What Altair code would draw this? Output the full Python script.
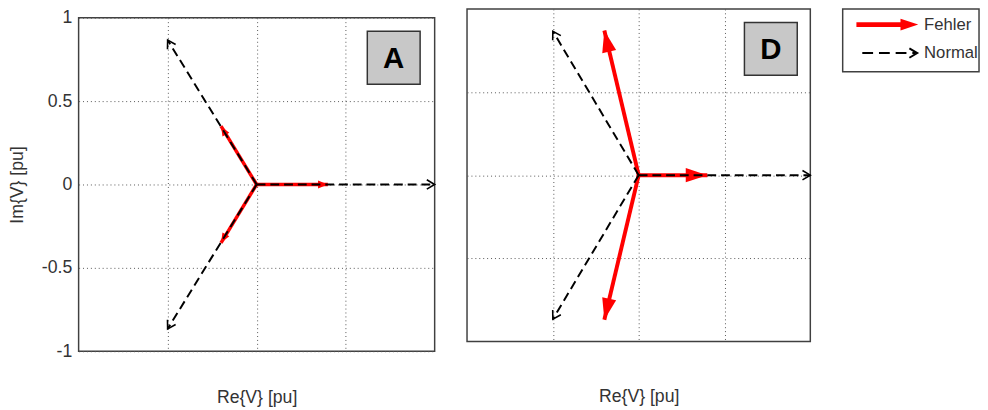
import math
import altair as alt
import pandas as pd

# ---------------- data ----------------
PHASES = ["L1", "L2", "L3"]
NORMAL_RE = [1.0, -0.5, -0.5]
NORMAL_IM = [0.0, 0.866, -0.866]
FEHLER_A_RE = [0.4, -0.2, -0.2]
FEHLER_A_IM = [0.0, 0.35, -0.35]
FEHLER_D_RE = [0.4, -0.2, -0.2]
FEHLER_D_IM = [0.0, 0.87, -0.87]
PANELS = ["A", "D"]
SERIES = ["Fehler", "Normal"]
Y_TICKS = [-1, -0.5, 0, 0.5, 1]
GRID = [-0.5, 0, 0.5]

# ---------------- style ----------------
FONT = "Liberation Sans"
TXT = "#333333"
RED = "#ff0000"
FRAME = "#404040"
GRID_STYLE = dict(grid=True, gridColor="#555555", gridDash=[1, 3], gridWidth=1)
BLACK_HEAD = "M-1,-0.6L0,0L-1,0.6"
RED_HEAD_A = "M0,0L-1,-0.4L-1,0.4Z"
RED_HEAD_D = "M0,0L-1,-0.33L-1,0.33Z"


def phasor_df(re, im):
    rows = []
    for p, x, y in zip(PHASES, re, im):
        ang = math.degrees(math.atan2(y, x))
        rows.append({"phase": p, "x0": 0.0, "y0": 0.0, "x": x, "y": y,
                     "rot": (360 - ang) % 360})
    return pd.DataFrame(rows)


def panel(name, fre, fim, width, height, red_w, red_shape, red_size, show_y, x_title_pad):
    fdf = phasor_df(fre, fim)
    ndf = phasor_df(NORMAL_RE, NORMAL_IM)
    xs = alt.Scale(domain=[-1, 1], nice=False, zero=False)
    ys = alt.Scale(domain=[-1, 1], nice=False, zero=False)
    xaxis = alt.Axis(values=GRID, labels=False, ticks=False, domain=False,
                     title="Re{V} [pu]", titlePadding=x_title_pad, titleFontSize=18,
                     titleFontWeight="normal", titleColor=TXT, titleFont=FONT,
                     **GRID_STYLE)
    if show_y:
        yaxis = alt.Axis(values=Y_TICKS, labelExpr="'' + datum.value", ticks=False,
                         domain=False, labelPadding=7, labelFontSize=18, labelColor=TXT,
                         labelFont=FONT, title="Im{V} [pu]", titlePadding=15,
                         titleFontSize=18, titleFontWeight="normal", titleColor=TXT,
                         titleFont=FONT, **GRID_STYLE)
    else:
        yaxis = alt.Axis(values=GRID, labels=False, ticks=False, domain=False,
                         title=None, **GRID_STYLE)

    def X(f):
        return alt.X(f, type="quantitative", scale=xs, axis=xaxis)

    def Y(f):
        return alt.Y(f, type="quantitative", scale=ys, axis=yaxis)

    red_lines = alt.Chart(fdf).mark_rule(color=RED, strokeWidth=red_w, strokeCap="butt").encode(
        x=X("x0"), y=Y("y0"), x2="x:Q", y2="y:Q")
    red_heads = alt.Chart(fdf).mark_point(shape=red_shape, filled=True, color=RED,
                                          size=red_size, opacity=1, strokeWidth=0).encode(
        x=X("x"), y=Y("y"), angle=alt.Angle("rot:Q", scale=None))
    blk_lines = alt.Chart(ndf).mark_rule(color="black", strokeWidth=2, strokeDash=[9, 5]).encode(
        x=X("x0"), y=Y("y0"), x2="x:Q", y2="y:Q")
    blk_heads = alt.Chart(ndf).mark_point(shape=BLACK_HEAD, filled=False, color="black",
                                          size=256, opacity=1, strokeWidth=1.6).encode(
        x=X("x"), y=Y("y"), angle=alt.Angle("rot:Q", scale=None))
    lab_df = pd.DataFrame({"panel": [name]})
    lab_box = alt.Chart(lab_df).mark_point(shape="square", filled=True, fill="#c8c8c8",
                                           stroke="#333333", strokeWidth=1.5, size=2900,
                                           opacity=1).encode(
        x=alt.X("lx:Q", scale=xs, axis=xaxis), y=alt.Y("ly:Q", scale=ys, axis=yaxis)
    ).transform_calculate(lx="0.77", ly="0.76")
    lab_txt = alt.Chart(lab_df).mark_text(fontSize=30, fontWeight="bold", color="black",
                                          font=FONT, baseline="middle", dy=1).encode(
        x=alt.X("lx:Q", scale=xs, axis=xaxis), y=alt.Y("ly:Q", scale=ys, axis=yaxis),
        text="panel:N"
    ).transform_calculate(lx="0.77", ly="0.76")
    return alt.layer(red_lines, red_heads, blk_lines, blk_heads, lab_box, lab_txt).properties(
        width=width, height=height)


panel_a = panel(PANELS[0], FEHLER_A_RE, FEHLER_A_IM, 363, 340, 3.5, RED_HEAD_A, 400, True, 38)
panel_d = panel(PANELS[1], FEHLER_D_RE, FEHLER_D_IM, 350, 339, 4, RED_HEAD_D, 1936, False, 47)

spacer = alt.Chart(pd.DataFrame({"v": [0]})).mark_point(opacity=0, size=0).encode(
    x=alt.value(0), y=alt.value(0)
).properties(width=363, height=1, view=alt.ViewBackground(stroke="transparent"))

# ---------------- legend ----------------
leg_df = pd.DataFrame({"name": SERIES})
ly = alt.Y("name:N", scale=alt.Scale(type="point", domain=SERIES, range=[16, 45], padding=0),
           axis=None)
lbase = alt.Chart(leg_df)
lf = lbase.transform_filter(alt.datum.name == "Fehler")
ln = lbase.transform_filter(alt.datum.name == "Normal")
legend = alt.layer(
    lf.mark_rule(color=RED, strokeWidth=5).encode(x=alt.value(14), x2=alt.value(66), y=ly),
    lf.mark_point(shape=RED_HEAD_D, filled=True, color=RED, size=1300, opacity=1,
                  strokeWidth=0).encode(x=alt.value(77), y=ly),
    ln.mark_rule(color="black", strokeWidth=2, strokeDash=[11, 6]).encode(
        x=alt.value(20), x2=alt.value(74), y=ly),
    ln.mark_point(shape=BLACK_HEAD, filled=False, color="black", size=256, opacity=1,
                  strokeWidth=2).encode(x=alt.value(76), y=ly),
    lbase.mark_text(align="left", baseline="middle", fontSize=17, color=TXT, font=FONT).encode(
        x=alt.value(83), y=ly, text="name:N"),
).properties(width=139, height=64,
             view=alt.ViewBackground(stroke=FRAME, strokeWidth=1.5))

chart = alt.hconcat(
    alt.vconcat(spacer, panel_a, spacing=8, bounds="flush"),
    panel_d,
    legend,
    spacing=28,
).properties(
    padding={"left": 0, "top": -4, "right": 0, "bottom": 0}
).configure(
    font=FONT, background="white"
).configure_view(
    stroke=FRAME, strokeWidth=1.5
)

chart.save("out.html", embed_options={"renderer": "svg", "actions": False})
